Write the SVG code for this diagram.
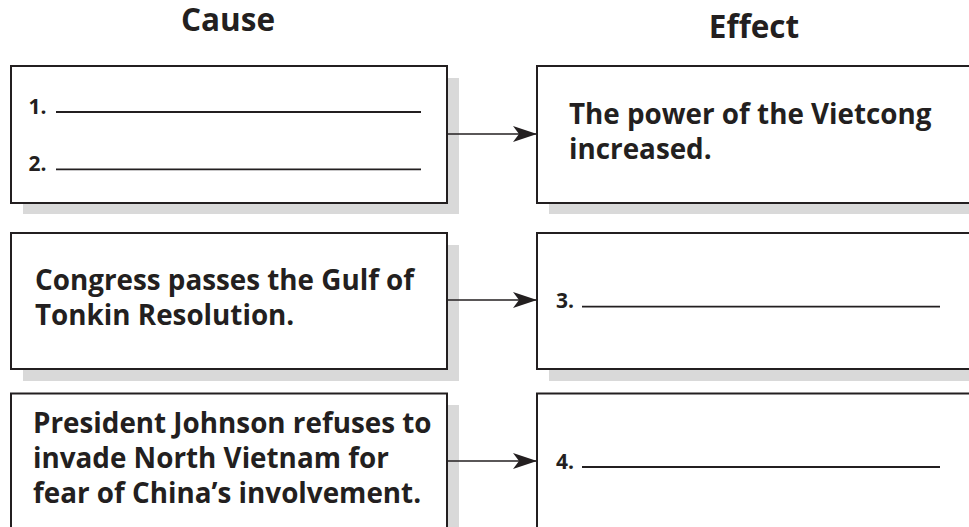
<svg xmlns="http://www.w3.org/2000/svg" width="969" height="527" viewBox="0 0 969 527">
<defs>
<style>
.shadow{fill:#d9d9d9;stroke:none}
.box{fill:#fff;stroke:#231f20;stroke-width:2}
.t{font-family:"Open Sans","Liberation Sans",sans-serif;font-weight:bold;fill:#231f20;font-size:27.8px}
.h{font-family:"Open Sans","Liberation Sans",sans-serif;font-weight:bold;fill:#231f20;font-size:31.5px;text-anchor:middle}
.n{font-family:"Open Sans","Liberation Sans",sans-serif;font-weight:bold;fill:#231f20;font-size:21px}
.blank{stroke:#231f20;stroke-width:1.8}
.conn{stroke:#231f20;stroke-width:1.6;fill:none}
</style>
<marker id="arr" markerUnits="userSpaceOnUse" markerWidth="26" markerHeight="18" refX="24" refY="8" orient="auto">
<path d="M0,0 L24,8 L0,16 L6,8 Z" fill="#231f20"/>
</marker>
</defs>
<rect width="969" height="527" fill="#fff"/>
<g id="headers">
<text class="h" x="228" y="30.5">Cause</text>
<text class="h" x="754" y="37.5">Effect</text>
</g>
<g id="cause1">
<rect class="shadow" x="23" y="78" width="436" height="136"/>
<rect class="box" x="11" y="66" width="436" height="137"/>
<text class="n" x="28.5" y="114.3">1.</text>
<line class="blank" x1="56" y1="112" x2="421" y2="112"/>
<text class="n" x="28.5" y="170.5">2.</text>
<line class="blank" x1="56" y1="169.3" x2="421" y2="169.3"/>
</g>
<g id="effect1">
<rect class="shadow" x="549" y="78" width="440" height="136"/>
<rect class="box" x="537" y="66" width="450" height="137"/>
<text class="t" x="569" y="124">The power of the Vietcong</text>
<text class="t" x="569" y="159">increased.</text>
</g>
<g id="cause2">
<rect class="shadow" x="23" y="245" width="436" height="136"/>
<rect class="box" x="11" y="233" width="436" height="136"/>
<text class="t" x="35" y="290">Congress passes the Gulf of</text>
<text class="t" x="35" y="325">Tonkin Resolution.</text>
</g>
<g id="effect2">
<rect class="shadow" x="549" y="245" width="440" height="136"/>
<rect class="box" x="537" y="233" width="450" height="136"/>
<text class="n" x="556" y="308">3.</text>
<line class="blank" x1="582" y1="306.7" x2="940" y2="306.7"/>
</g>
<g id="cause3">
<rect class="shadow" x="23" y="405" width="436" height="150"/>
<rect class="box" x="11" y="393.5" width="436" height="150"/>
<text class="t" x="33" y="433.3">President Johnson refuses to</text>
<text class="t" x="33" y="468.3">invade North Vietnam for</text>
<text class="t" x="33" y="503.3">fear of China’s involvement.</text>
</g>
<g id="effect3">
<rect class="shadow" x="549" y="405" width="440" height="150"/>
<rect class="box" x="537" y="393.5" width="450" height="150"/>
<text class="n" x="556" y="468.5">4.</text>
<line class="blank" x1="582" y1="467" x2="940" y2="467"/>
</g>
<g id="connectors">
<line class="conn" x1="447" y1="134" x2="537" y2="134" marker-end="url(#arr)"/>
<line class="conn" x1="447" y1="300" x2="537" y2="300" marker-end="url(#arr)"/>
<line class="conn" x1="447" y1="461" x2="537" y2="461" marker-end="url(#arr)"/>
</g>
</svg>
